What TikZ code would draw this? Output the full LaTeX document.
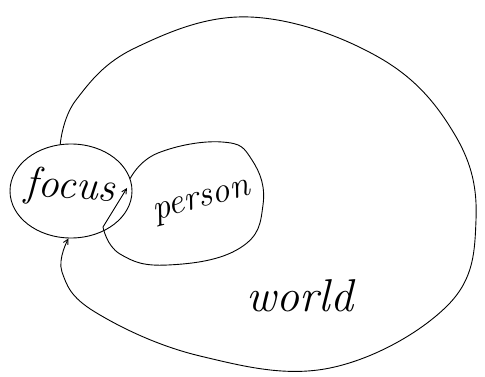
\documentclass[tikz,border=0pt]{standalone}
\usepackage{tikz}
\usetikzlibrary{shapes.geometric,arrows.meta,positioning}
\tikzset{
  trazo/.style={line width=0.9pt,line cap=round,line join=round},
  flecha/.style={trazo,-{Straight Barb[length=5pt,width=5pt]}},
  mano/.style={font=\itshape}
}

\begin{document}
\begin{tikzpicture}[x=1pt,y=-1pt]
\useasboundingbox (0,0) rectangle (485,377);
\node[trazo,draw,ellipse,minimum width=122pt,minimum height=94pt,inner sep=0pt] (focus) at (71,191) {};
\node[mano,rotate=-4] (focuslbl) at (70,188) {\fontsize{42}{42}\selectfont focus};
\node[mano,rotate=15] (personlbl) at (202,203) {\fontsize{36}{36}\selectfont person};
\node[mano] (worldlbl) at (300,296) {\fontsize{46}{46}\selectfont world};
\coordinate (p0) at (focus.12);
\coordinate (p1) at (103,227);
\coordinate (p2) at (127,188);
% world, around everything and back into focus
\draw[flecha] plot[smooth,tension=0.65] coordinates {(focus.103) (76,100) (135,48) (250,17) (380,58) (455,135) (476,220) (448,305) (330,368) (200,356) (95,312) (62,272) (focus.-93)};
% person, with its end inside focus
\draw[flecha] plot[smooth,tension=0.75] coordinates {(p0) (158,153) (222,142) (252,160) (263,205) (240,248) (168,265) (120,254) (p1)} -- (p2);
\end{tikzpicture}
\end{document}
